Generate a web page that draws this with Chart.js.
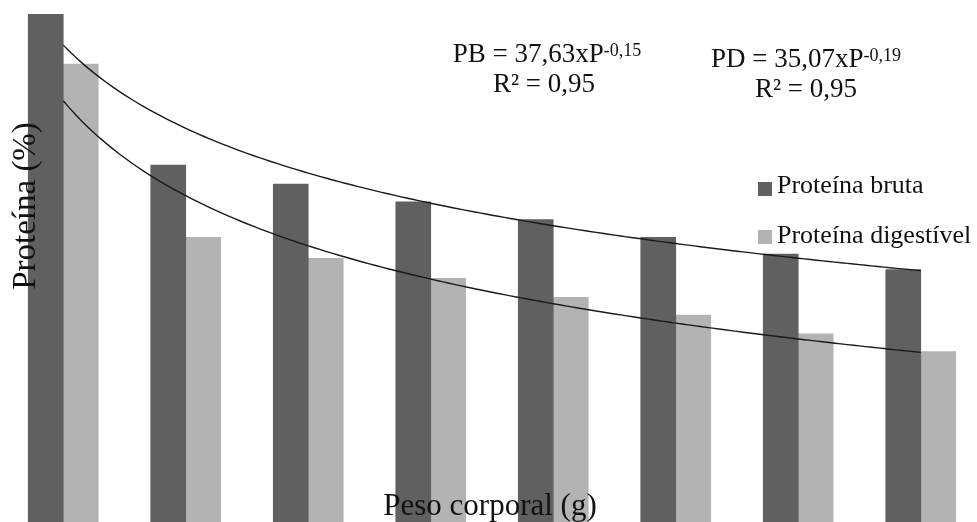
<!DOCTYPE html>
<html>
<head>
<meta charset="utf-8">
<script src="https://cdn.jsdelivr.net/npm/chart.js@4.4.1/dist/chart.umd.min.js"></script>
<style>
  html, body { margin: 0; padding: 0; background: #fff; overflow: hidden; }
  #wrap { width: 984px; height: 522px; }
</style>
</head>
<body>
<div id="wrap"><canvas id="grafico" width="984" height="522"></canvas></div>
<script>
// categorias (peso corporal, sem rótulos visíveis no gráfico)
var categorias = ["1", "2", "3", "4", "5", "6", "7", "8"];
// Proteína bruta (%)
var proteinaBruta = [39.0, 32.2, 31.35, 30.55, 29.75, 28.95, 28.2, 27.5];
// Proteína digestível (%)
var proteinaDigestivel = [36.75, 28.95, 28.0, 27.1, 26.25, 25.45, 24.6, 23.8];

// linha de tendência potência (y = a * x^b), ajuste por mínimos quadrados em ln
function ajustePotencia(vals) {
  var n = vals.length, sx = 0, sy = 0, sxx = 0, sxy = 0;
  for (var i = 0; i < n; i++) {
    var lx = Math.log(i + 1), ly = Math.log(vals[i]);
    sx += lx; sy += ly; sxx += lx * lx; sxy += lx * ly;
  }
  var b = (n * sxy - sx * sy) / (n * sxx - sx * sx);
  var a = Math.exp((sy - b * sx) / n);
  return { a: a, b: b };
}
// curva do modelo ajustado, de x = 1 a x = n
function curvaTendencia(vals) {
  var f = ajustePotencia(vals), pts = [];
  for (var k = 0; k <= (vals.length - 1) * 20; k++) {
    var x = 1 + k / 20;
    pts.push({ x: x, y: f.a * Math.pow(x, f.b) });
  }
  return pts;
}
var tendenciaPB = curvaTendencia(proteinaBruta);
var tendenciaPD = curvaTendencia(proteinaDigestivel);

var serif = '"Liberation Serif", "Times New Roman", serif';

function textoSobrescrito(ctx, base, sup, cx, y, size, supSize) {
  ctx.font = size + 'px ' + serif;
  var w1 = ctx.measureText(base).width;
  ctx.font = supSize + 'px ' + serif;
  var w2 = ctx.measureText(sup).width;
  var x = cx - (w1 + w2) / 2;
  ctx.textAlign = 'left';
  ctx.font = size + 'px ' + serif;
  ctx.fillText(base, x, y);
  ctx.font = supSize + 'px ' + serif;
  ctx.fillText(sup, x + w1, y - 6);
}

var textos = {
  id: 'textos',
  afterDraw: function (chart) {
    var ctx = chart.ctx;
    ctx.save();
    ctx.fillStyle = '#111';
    ctx.textBaseline = 'alphabetic';

    // equações
    textoSobrescrito(ctx, 'PB = 37,63xP', '-0,15', 547, 62, 27, 18);
    ctx.font = '27px ' + serif;
    ctx.textAlign = 'center';
    ctx.fillText('R² = 0,95', 544, 92);
    textoSobrescrito(ctx, 'PD = 35,07xP', '-0,19', 806, 67, 27, 18);
    ctx.font = '27px ' + serif;
    ctx.textAlign = 'center';
    ctx.fillText('R² = 0,95', 806, 97);

    // legenda
    ctx.textAlign = 'left';
    ctx.fillStyle = '#606060';
    ctx.fillRect(758, 182, 14, 14);
    ctx.fillStyle = '#b3b3b3';
    ctx.fillRect(758, 230, 14, 14);
    ctx.fillStyle = '#111';
    ctx.font = '26px ' + serif;
    ctx.fillText('Proteína bruta', 777, 193);
    ctx.fillText('Proteína digestível', 777, 243);

    // títulos dos eixos
    ctx.font = '31px ' + serif;
    ctx.textAlign = 'center';
    ctx.fillText('Peso corporal (g)', 490, 515);
    ctx.save();
    ctx.translate(35, 206);
    ctx.rotate(-Math.PI / 2);
    ctx.font = '33px ' + serif;
    ctx.fillText('Proteína (%)', 0, 0);
    ctx.restore();

    ctx.restore();
  }
};

var ctx = document.getElementById('grafico');
var grafico = new Chart(ctx, {
  type: 'bar',
  data: {
    labels: categorias,
    datasets: [
      {
        type: 'line',
        label: 'Tendência PB',
        data: tendenciaPB,
        xAxisID: 'xt',
        yAxisID: 'y',
        borderColor: '#1a1a1a',
        borderWidth: 1.4,
        pointRadius: 0,
        fill: false,
        order: 0
      },
      {
        type: 'line',
        label: 'Tendência PD',
        data: tendenciaPD,
        xAxisID: 'xt',
        yAxisID: 'y',
        borderColor: '#1a1a1a',
        borderWidth: 1.4,
        pointRadius: 0,
        fill: false,
        order: 0
      },
      {
        label: 'Proteína bruta',
        data: proteinaBruta,
        xAxisID: 'x',
        yAxisID: 'y',
        backgroundColor: '#606060',
        barThickness: 35,
        order: 1
      },
      {
        label: 'Proteína digestível',
        data: proteinaDigestivel,
        xAxisID: 'x',
        yAxisID: 'y',
        backgroundColor: '#b3b3b3',
        barThickness: 35,
        order: 1
      }
    ]
  },
  options: {
    responsive: false,
    animation: false,
    devicePixelRatio: 1,
    layout: { padding: { left: 2, right: 2, top: 0, bottom: 0 } },
    plugins: {
      legend: { display: false },
      tooltip: { enabled: false }
    },
    scales: {
      x: { type: 'category', display: false, offset: true },
      xt: { type: 'linear', axis: 'x', display: false, offset: false, min: 0.5, max: 8.5 },
      y: { display: false, min: 16.13, max: 39.64 }
    }
  },
  plugins: [textos]
});
</script>
</body>
</html>
